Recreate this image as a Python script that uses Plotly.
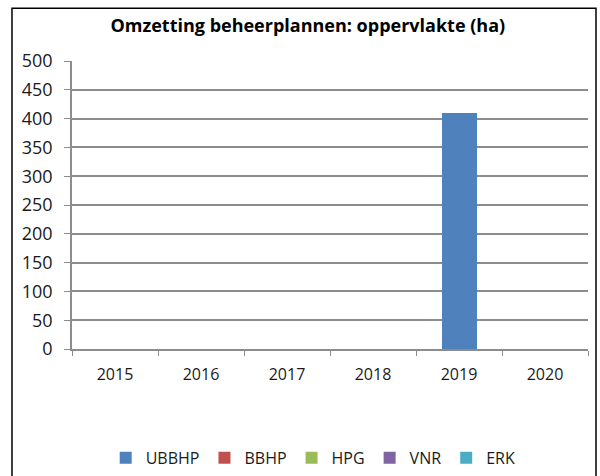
import plotly.graph_objects as go

years = ["2015", "2016", "2017", "2018", "2019", "2020"]
series_names = ["UBBHP", "BBHP", "HPG", "VNR", "ERK"]
ubbhp = [0, 0, 0, 0, 410, 0]
bbhp = [0, 0, 0, 0, 0, 0]
hpg = [0, 0, 0, 0, 0, 0]
vnr = [0, 0, 0, 0, 0, 0]
erk = [0, 0, 0, 0, 0, 0]
colors = ["#4F81BD", "#C0504D", "#9BBB59", "#8064A2", "#4BACC6"]
y_ticks = [0, 50, 100, 150, 200, 250, 300, 350, 400, 450, 500]

FONT = "Open Sans"
fig = go.Figure()
for name, vals, col in zip(series_names, [ubbhp, bbhp, hpg, vnr, erk], colors):
    fig.add_trace(go.Bar(x=years, y=vals, name=name, marker_color=col,
                         marker_line_width=0))

fig.update_layout(
    width=600, height=476,
    margin=dict(l=72, r=12, t=61, b=127, pad=0, autoexpand=False),
    paper_bgcolor="white", plot_bgcolor="white",
    barmode="stack", bargap=0.593,
    font=dict(family=FONT, size=16, color="#1a1a1a"),
    title=dict(text="<b>Omzetting beheerplannen: oppervlakte (ha)</b>",
               x=0.513, xanchor="center", y=0.947, yanchor="middle",
               font=dict(family=FONT, size=18, color="black")),
    legend=dict(orientation="h", x=0.522, xanchor="center",
                y=0.038, yanchor="middle", yref="container", xref="container",
                font=dict(family=FONT, size=16, color="#1a1a1a"),
                itemwidth=30, traceorder="normal"),
    showlegend=True,
)
fig.update_xaxes(type="category", showline=True, linecolor="#8c8c8c", linewidth=1.5,
                 ticks="outside", tickson="boundaries", ticklen=5, tickcolor="#8c8c8c",
                 showgrid=False, ticklabelstandoff=10, automargin=False,
                 tickfont=dict(size=16))
fig.update_yaxes(range=[0, 500], tickvals=y_ticks, showline=True, linecolor="#8c8c8c",
                 linewidth=1.5, ticks="outside", ticklen=6, tickcolor="#8c8c8c",
                 showgrid=True, gridcolor="#8c8c8c", gridwidth=1.5, zeroline=False,
                 ticklabelstandoff=8, automargin=False, tickfont=dict(size=18))
fig.add_shape(type="rect", xref="paper", yref="paper",
              x0=-0.1163, x1=1.0155, y0=-0.6, y1=1.1828,
              line=dict(color="black", width=1.5), fillcolor="rgba(0,0,0,0)", layer="above")
fig.write_html("out.html", config={"displayModeBar": False},
               post_script="document.body.style.margin='0';")
